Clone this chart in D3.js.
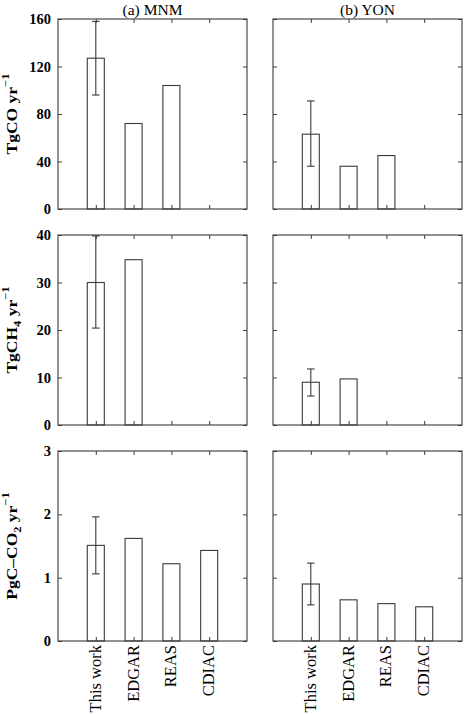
<!DOCTYPE html>
<html>
<head>
<meta charset="utf-8">
<script src="https://cdn.jsdelivr.net/npm/d3@7"></script>
<style>
  body { margin: 0; background: #fff; }
</style>
</head>
<body>
<div id="cont"></div>
<script>

// categories and panel titles
var categories = ["This work", "EDGAR", "REAS", "CDIAC"];
var regions = ["(a) MNM", "(b) YON"];

// CO (Tg/yr)
var coMNM = [127, 72, 104, null],
    coYON = [63, 36, 45, null];
var coErrMNM = [96, 158],
    coErrYON = [36, 91];

// CH4 (Tg/yr)
var ch4MNM = [30, 34.8, null, null],
    ch4YON = [9, 9.7, null, null];
var ch4ErrMNM = [20.4, 39.8],
    ch4ErrYON = [6.1, 11.8];

// CO2 (PgC/yr)
var co2MNM = [1.51, 1.62, 1.22, 1.43],
    co2YON = [0.9, 0.65, 0.59, 0.54];
var co2ErrMNM = [1.06, 1.96],
    co2ErrYON = [0.57, 1.23];

// y tick labels
var coTicks = [0, 40, 80, 120, 160],
    ch4Ticks = [0, 10, 20, 30, 40],
    co2Ticks = [0, 1, 2, 3];

// y axis labels: [text, kind]
var coLabel = [["TgCO", ""], [" yr", ""], ["\u22121", "sup"]],
    ch4Label = [["TgCH", ""], ["4", "sub"], [" yr", ""], ["\u22121", "sup"]],
    co2Label = [["PgC\u2013CO", ""], ["2", "sub"], [" yr", ""], ["\u22121", "sup"]];

var rows = [
  {ticks: coTicks, label: coLabel, values: [coMNM, coYON], err: [coErrMNM, coErrYON]},
  {ticks: ch4Ticks, label: ch4Label, values: [ch4MNM, ch4YON], err: [ch4ErrMNM, ch4ErrYON]},
  {ticks: co2Ticks, label: co2Label, values: [co2MNM, co2YON], err: [co2ErrMNM, co2ErrYON]}
];

// layout
var W = 464, H = 714;
var left = 58, top0 = 19,
    pw = 189, ph = 190,
    gapX = 26, gapY = 26;
var lineCol = "#3a3a3a";
var serif = "'Liberation Serif', 'Times New Roman', 'DejaVu Serif', serif";

var svg = d3.select("#cont").append("svg")
    .attr("width", W)
    .attr("height", H)
    .style("font-family", serif);

// x positions: categories at 1..4 on a 0..5 range
var x = d3.scaleLinear().domain([0, 5]).range([0, pw]);
var barHalf = 0.225, capHalf = 0.1;

rows.forEach(function(row, r) {
  var y = d3.scaleLinear()
      .domain([0, d3.max(row.ticks)])
      .range([ph, 0]);

  regions.forEach(function(reg, c) {
    var g = svg.append("g")
        .attr("transform", "translate(" + (left + c * (pw + gapX)) + "," + (top0 + r * (ph + gapY)) + ")");

    // bars
    var vals = row.values[c];
    g.selectAll("rect.bar")
        .data(vals.map(function(v, i) { return {v: v, i: i}; }).filter(function(d) { return d.v != null; }))
      .enter().append("rect")
        .attr("class", "bar")
        .attr("x", function(d) { return x(d.i + 1 - barHalf); })
        .attr("width", x(2 * barHalf) - x(0))
        .attr("y", function(d) { return y(d.v); })
        .attr("height", function(d) { return y(0) - y(d.v); })
        .style("fill", "#fff")
        .style("stroke", lineCol)
        .style("stroke-width", 1.1);

    // error bar on "This work"
    var e = row.err[c];
    var eg = g.append("g")
        .style("stroke", lineCol)
        .style("stroke-width", 1.1);
    eg.append("line")
        .attr("x1", x(1)).attr("x2", x(1))
        .attr("y1", y(e[0])).attr("y2", y(e[1]));
    e.forEach(function(v) {
      eg.append("line")
          .attr("x1", x(1 - capHalf)).attr("x2", x(1 + capHalf))
          .attr("y1", y(v)).attr("y2", y(v));
    });

    // inward ticks on all four sides
    var axL = g.append("g")
        .call(d3.axisLeft(y).tickValues(row.ticks).tickSize(-4).tickPadding(7)
          .tickFormat(c == 0 ? d3.format("d") : ""));
    var axR = g.append("g")
        .attr("transform", "translate(" + pw + ",0)")
        .call(d3.axisRight(y).tickValues(row.ticks).tickSize(-4).tickFormat(""));
    var axT = g.append("g")
        .call(d3.axisTop(x).tickValues([1, 2, 3, 4]).tickSize(-4).tickFormat(""));
    var axB = g.append("g")
        .attr("transform", "translate(0," + ph + ")")
        .call(d3.axisBottom(x).tickValues([1, 2, 3, 4]).tickSize(-4).tickFormat(""));

    [axL, axR, axT, axB].forEach(function(a) {
      a.attr("font-family", serif);
      a.select(".domain").remove();
      a.selectAll("line").style("stroke", lineCol);
    });
    axL.selectAll("text")
        .style("font-family", serif)
        .style("font-weight", "bold")
        .style("font-size", "14.5px")
        .style("fill", "#000");

    // frame
    g.append("rect")
        .attr("width", pw)
        .attr("height", ph)
        .style("fill", "none")
        .style("stroke", lineCol)
        .style("stroke-width", 1.1);

    // panel titles
    if (r == 0) {
      g.append("text")
          .attr("x", pw / 2)
          .attr("y", -4.5)
          .attr("text-anchor", "middle")
          .style("font-family", serif)
          .style("font-size", "15.5px")
          .text(reg);
    }

    // category labels
    if (r == rows.length - 1) {
      g.selectAll("text.cat")
          .data(categories)
        .enter().append("text")
          .attr("class", "cat")
          .attr("transform", function(d, i) {
            return "translate(" + x(i + 1) + "," + (ph + 4) + ") rotate(-90)";
          })
          .attr("dy", "0.3em")
          .attr("text-anchor", "end")
          .style("font-family", serif)
          .style("font-size", "16.5px")
          .text(function(d) { return d; });
    }
  });

  // y axis label
  var lab = svg.append("text")
      .attr("transform", "translate(16.5," + (top0 + r * (ph + gapY) + ph / 2) + ") rotate(-90) scale(1.25,1)")
      .attr("text-anchor", "middle")
      .style("font-family", serif)
      .style("font-weight", "bold")
      .style("font-size", "14px");
  var shift = 0;
  row.label.forEach(function(p) {
    var dy = 0, fs = null;
    if (p[1] == "sup") { dy = -0.55; fs = "10px"; }
    if (p[1] == "sub") { dy = 0.35; fs = "10px"; }
    var t = lab.append("tspan")
        .attr("dy", (dy - shift) * 14 + "px")
        .text(p[0]);
    if (fs) t.style("font-size", fs);
    shift = dy;
  });
});

</script>
</body>
</html>
